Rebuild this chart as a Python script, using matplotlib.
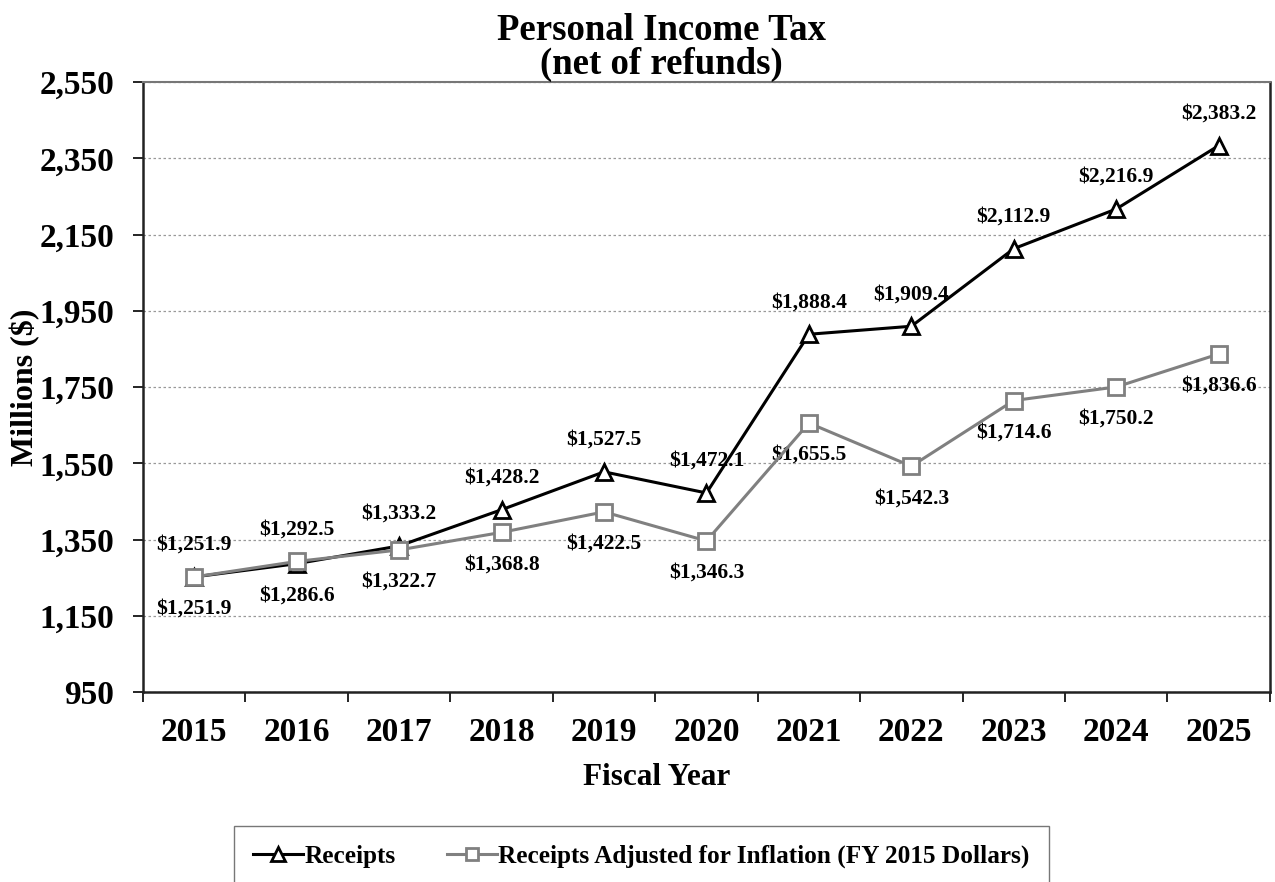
import matplotlib.pyplot as plt
import numpy as np

years = ["2015", "2016", "2017", "2018", "2019", "2020",
         "2021", "2022", "2023", "2024", "2025"]
receipts = [1251.9, 1286.6, 1333.2, 1428.2, 1527.5, 1472.1,
            1888.4, 1909.4, 2112.9, 2216.9, 2383.2]
adjusted = [1251.9, 1292.5, 1322.7, 1368.8, 1422.5, 1346.3,
            1655.5, 1542.3, 1714.6, 1750.2, 1836.6]
y_ticks = [950, 1150, 1350, 1550, 1750, 1950, 2150, 2350, 2550]

plt.rcParams['font.family'] = ['Liberation Serif', 'DejaVu Serif']
plt.rcParams['font.weight'] = 'bold'

fig = plt.figure(figsize=(12.75, 8.82), dpi=100)
ax = fig.add_axes([0.1122, 0.2154, 0.8838, 0.6916])

x = np.arange(len(years))
gray = "#808080"

ax.plot(x, receipts, color="black", lw=2.2, marker="^", ms=12,
        mfc="white", mec="black", mew=2, label="Receipts", zorder=3)
ax.plot(x, adjusted, color=gray, lw=2.2, marker="s", ms=11,
        mfc="white", mec=gray, mew=2,
        label="Receipts Adjusted for Inflation (FY 2015 Dollars)", zorder=4)


def fmt(v):
    return "${:,.1f}".format(v)


# higher value of the year gets its label above, the lower one below
for i in x:
    r, a = receipts[i], adjusted[i]
    r_up = r >= a
    ax.annotate(fmt(r), (i, r), xytext=(0, 23 if r_up else -23),
                textcoords="offset points", ha="center", va="center",
                fontsize=15.5, fontweight="bold")
    ax.annotate(fmt(a), (i, a), xytext=(0, -23 if r_up else 23),
                textcoords="offset points", ha="center", va="center",
                fontsize=15.5, fontweight="bold")

ax.set_xlim(-0.5, len(years) - 0.5)
ax.set_ylim(950, 2550)
ax.set_yticks(y_ticks)
ax.set_yticklabels(["{:,}".format(v) for v in y_ticks], fontsize=24, fontweight="bold")
ax.set_xticks(x)
ax.set_xticklabels(years, fontsize=24, fontweight="bold")
ax.set_xticks(np.arange(-0.5, len(years)), minor=True)
ax.tick_params(axis="x", which="major", length=0, pad=18)
ax.tick_params(axis="x", which="minor", length=7, width=1.2, direction="out")
ax.tick_params(axis="y", length=7, width=1.2, direction="out", pad=14)

ax.grid(axis="y", linestyle=(0, (2, 2)), color="#999999", lw=0.9)
for s in ["left", "bottom", "right"]:
    ax.spines[s].set_linewidth(1.8)
    ax.spines[s].set_color("#222222")
ax.spines["top"].set_color("#777777")
ax.spines["top"].set_linewidth(1.5)

ax.set_xlabel("Fiscal Year", fontsize=22.5, fontweight="bold")
ax.xaxis.set_label_coords(0.456, -0.116)
ax.set_ylabel("Millions ($)", fontsize=23, fontweight="bold")
ax.yaxis.set_label_coords(-0.0914, 0.5)
ax.set_title("Personal Income Tax\n(net of refunds)", fontsize=26.5,
             fontweight="bold", linespacing=0.95, pad=0, x=0.46)

leg = fig.legend(loc="upper center", bbox_to_anchor=(0.503, 0.064), ncol=2,
                 frameon=True, fancybox=False, handlelength=2.0,
                 handletextpad=0.05, columnspacing=2.0, borderpad=0.75,
                 markerscale=0.8, borderaxespad=0,
                 prop={"weight": "bold", "size": 18.2})
leg.get_frame().set_edgecolor("#555555")
leg.get_frame().set_linewidth(1.0)

fig.savefig("out.png", dpi=100)
